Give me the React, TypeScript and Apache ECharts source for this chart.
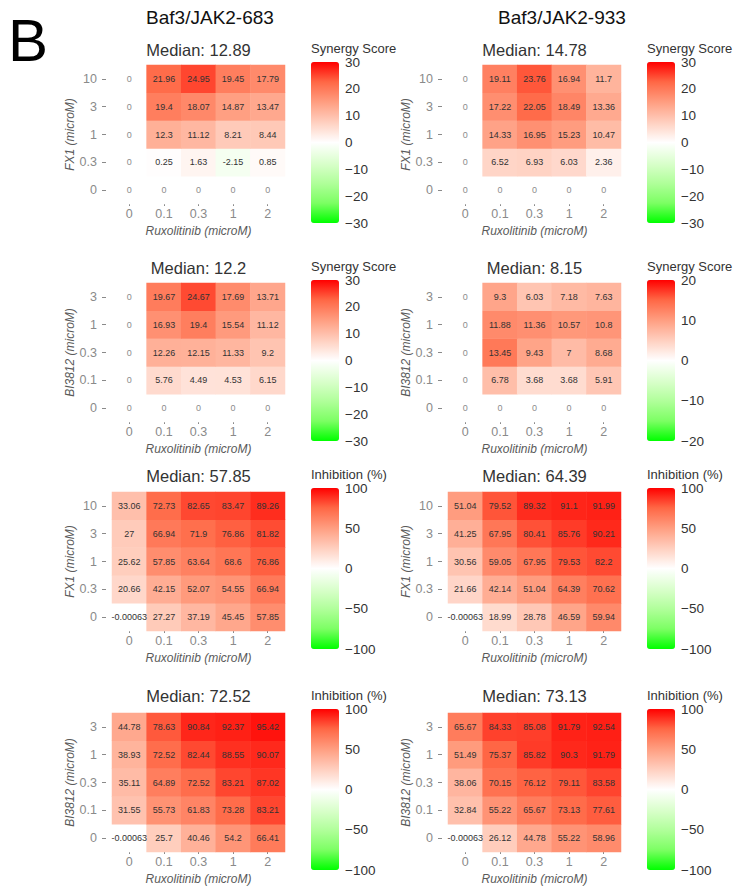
import React, { useEffect, useRef } from 'react';
import * as echarts from 'echarts';

// ---------- data ----------
const xCats = ['0', '0.1', '0.3', '1', '2'];
const fx1Cats = ['0', '0.3', '1', '3', '10'];
const bi3812Cats = ['0', '0.1', '0.3', '1', '3'];

// rows from bottom (lowest dose) to top
const synFx1_683 = [
  [0, 0, 0, 0, 0],
  [0, 0.25, 1.63, -2.15, 0.85],
  [0, 12.3, 11.12, 8.21, 8.44],
  [0, 19.4, 18.07, 14.87, 13.47],
  [0, 21.96, 24.95, 19.45, 17.79],
];
const synFx1_933 = [
  [0, 0, 0, 0, 0],
  [0, 6.52, 6.93, 6.03, 2.36],
  [0, 14.33, 16.95, 15.23, 10.47],
  [0, 17.22, 22.05, 18.49, 13.36],
  [0, 19.11, 23.76, 16.94, 11.7],
];
const synBi_683 = [
  [0, 0, 0, 0, 0],
  [0, 5.76, 4.49, 4.53, 6.15],
  [0, 12.26, 12.15, 11.33, 9.2],
  [0, 16.93, 19.4, 15.54, 11.12],
  [0, 19.67, 24.67, 17.69, 13.71],
];
const synBi_933 = [
  [0, 0, 0, 0, 0],
  [0, 6.78, 3.68, 3.68, 5.91],
  [0, 13.45, 9.43, 7, 8.68],
  [0, 11.88, 11.36, 10.57, 10.8],
  [0, 9.3, 6.03, 7.18, 7.63],
];
const inhFx1_683 = [
  [-0.00063, 27.27, 37.19, 45.45, 57.85],
  [20.66, 42.15, 52.07, 54.55, 66.94],
  [25.62, 57.85, 63.64, 68.6, 76.86],
  [27, 66.94, 71.9, 76.86, 81.82],
  [33.06, 72.73, 82.65, 83.47, 89.26],
];
const inhFx1_933 = [
  [-0.00063, 18.99, 28.78, 46.59, 59.94],
  [21.66, 42.14, 51.04, 64.39, 70.62],
  [30.56, 59.05, 67.95, 79.53, 82.2],
  [41.25, 67.95, 80.41, 85.76, 90.21],
  [51.04, 79.52, 89.32, 91.1, 91.99],
];
const inhBi_683 = [
  [-0.00063, 25.7, 40.46, 54.2, 66.41],
  [31.55, 55.73, 61.83, 73.28, 83.21],
  [35.11, 64.89, 72.52, 83.21, 87.02],
  [38.93, 72.52, 82.44, 88.55, 90.07],
  [44.78, 78.63, 90.84, 92.37, 95.42],
];
const inhBi_933 = [
  [-0.00063, 26.12, 44.78, 55.22, 58.96],
  [32.84, 55.22, 65.67, 73.13, 77.61],
  [38.06, 70.15, 76.12, 79.11, 83.58],
  [51.49, 75.37, 85.82, 90.3, 91.79],
  [65.67, 84.33, 85.08, 91.79, 92.54],
];

const medians = ['12.89', '14.78', '12.2', '8.15', '57.85', '64.39', '72.52', '73.13'];
const legendMax = [30, 30, 30, 20, 100, 100, 100, 100];
const legendStep = [10, 10, 10, 10, 50, 50, 50, 50];
const legendTitles = ['Synergy Score', 'Synergy Score', 'Synergy Score', 'Synergy Score', 'Inhibition (%)', 'Inhibition (%)', 'Inhibition (%)', 'Inhibition (%)'];
const cellLines = ['Baf3/JAK2-683', 'Baf3/JAK2-933'];
const xName = 'Ruxolitinib (microM)';
const yNames = ['FX1 (microM)', 'FX1 (microM)', 'BI3812 (microM)', 'BI3812 (microM)', 'FX1 (microM)', 'FX1 (microM)', 'BI3812 (microM)', 'BI3812 (microM)'];
const matrices = [synFx1_683, synFx1_933, synBi_683, synBi_933, inhFx1_683, inhFx1_933, inhBi_683, inhBi_933];
const yCatsList = [fx1Cats, fx1Cats, bi3812Cats, bi3812Cats, fx1Cats, fx1Cats, bi3812Cats, bi3812Cats];

// ---------- layout ----------
const FONT = '"Liberation Sans", Arial, Helvetica, sans-serif';
const palette = ['#00ff00', '#7dff64', '#b1ff9b', '#dbffcd', '#ffffff', '#ffcfbf', '#ff9e81', '#ff6846', '#ff0000'];
const gridTops = [65, 283, 492, 713];
const gridH = 139;
const gridLefts = [112, 448];
const gridW = 173;
const barLefts = [311, 647];
const barTops = [62, 280, 488, 709];
const barH = 161;
const barW = 28;
const titleCY = [50, 268, 476, 696];
const legendTitleCY = [48, 266, 474, 695];

function buildOption() {
  const grid: any[] = [];
  const xAxis: any[] = [];
  const yAxis: any[] = [];
  const series: any[] = [];
  const visualMap: any[] = [];
  const graphic: any[] = [];

  for (let i = 0; i < 8; i++) {
    const col = i % 2;
    const row = Math.floor(i / 2);
    grid.push({ left: gridLefts[col], top: gridTops[row], width: gridW, height: gridH });
  }
  for (let i = 0; i < 8; i++) {
    const col = i % 2;
    const row = Math.floor(i / 2);
    grid.push({ left: barLefts[col], top: barTops[row], width: barW, height: barH });
  }

  for (let i = 0; i < 8; i++) {
    xAxis.push({
      type: 'category', gridIndex: i, data: xCats,
      axisLine: { show: false },
      axisTick: { show: true, alignWithLabel: true, length: 2, lineStyle: { color: '#8a8a8a' } },
      axisLabel: { color: '#8a8a8a', fontSize: 12.5, margin: 3, fontFamily: FONT },
      splitLine: { show: false },
      name: xName, nameLocation: 'middle', nameGap: 21,
      nameTextStyle: { fontStyle: 'italic', fontSize: 12, color: '#5a5a5a', fontFamily: FONT },
    });
    yAxis.push({
      type: 'category', gridIndex: i, data: yCatsList[i], offset: 6,
      axisLine: { show: false },
      axisTick: { show: true, alignWithLabel: true, length: 4, lineStyle: { color: '#8a8a8a' } },
      axisLabel: { color: '#8a8a8a', fontSize: 12.5, margin: 9, fontFamily: FONT },
      splitLine: { show: false },
      name: yNames[i], nameLocation: 'middle', nameGap: 30, nameRotate: 90,
      nameTextStyle: { fontStyle: 'italic', fontSize: 12, color: '#5a5a5a', fontFamily: FONT },
    });
  }
  for (let i = 0; i < 8; i++) {
    xAxis.push({ type: 'value', gridIndex: 8 + i, show: false, min: 0, max: 1 });
    yAxis.push({
      type: 'value', gridIndex: 8 + i, position: 'right',
      min: -legendMax[i], max: legendMax[i], interval: legendStep[i],
      axisLine: { show: false }, axisTick: { show: false }, splitLine: { show: false },
      axisLabel: {
        color: '#333', fontSize: 13.5, margin: 6, fontFamily: FONT,
        formatter: (v: number) => (v < 0 ? '\u2212' + Math.abs(v) : String(v)),
      },
    });
  }

  for (let i = 0; i < 8; i++) {
    const m = matrices[i];
    const data: any[] = [];
    for (let r = 0; r < m.length; r++) {
      for (let c = 0; c < m[r].length; c++) {
        const v = m[r][c];
        data.push({ value: [c, r, v], label: { color: v === 0 ? '#8c8c8c' : '#333' } });
      }
    }
    series.push({
      type: 'heatmap', xAxisIndex: i, yAxisIndex: i, data,
      itemStyle: { borderWidth: 0 },
      label: {
        show: true, fontSize: 9, fontFamily: FONT,
        formatter: (p: any) => String(p.value[2]),
      },
    });
    const col = i % 2;
    const row = Math.floor(i / 2);
    visualMap.push({
      type: 'continuous', seriesIndex: i, min: -legendMax[i], max: legendMax[i],
      calculable: false, hoverLink: false, show: true, padding: 0,
      itemWidth: barW, itemHeight: barH, left: barLefts[col], top: barTops[row],
      inRange: { color: palette },
    });
    graphic.push({
      type: 'text', x: gridLefts[col] + gridW / 2, y: titleCY[row],
      style: { text: 'Median: ' + medians[i], fontSize: 16.5, fontFamily: FONT, fill: '#333', align: 'center', verticalAlign: 'middle' },
    });
    graphic.push({
      type: 'text', x: barLefts[col], y: legendTitleCY[row],
      style: { text: legendTitles[i], fontSize: 13, fontFamily: FONT, fill: '#333', align: 'left', verticalAlign: 'middle' },
    });
  }

  graphic.push({
    type: 'text', x: 8, y: 40,
    style: { text: 'B', fontSize: 60, fontFamily: FONT, fill: '#000', align: 'left', verticalAlign: 'middle' },
  });
  graphic.push({
    type: 'text', x: 210, y: 17,
    style: { text: cellLines[0], fontSize: 19, fontFamily: FONT, fill: '#111', align: 'center', verticalAlign: 'middle' },
  });
  graphic.push({
    type: 'text', x: 562, y: 17,
    style: { text: cellLines[1], fontSize: 19, fontFamily: FONT, fill: '#111', align: 'center', verticalAlign: 'middle' },
  });

  return {
    animation: false,
    backgroundColor: '#fff',
    textStyle: { fontFamily: FONT },
    grid, xAxis, yAxis, series, visualMap, graphic,
  };
}

export default function App() {
  const ref = useRef<HTMLDivElement>(null);
  useEffect(() => {
    const chart = echarts.init(ref.current!, null, { renderer: 'svg' });
    chart.setOption(buildOption() as any);
    return () => chart.dispose();
  }, []);
  return (
    <div
      ref={ref}
      style={{ position: 'fixed', left: 0, top: 0, width: 738, height: 888, background: '#fff' }}
    />
  );
}
